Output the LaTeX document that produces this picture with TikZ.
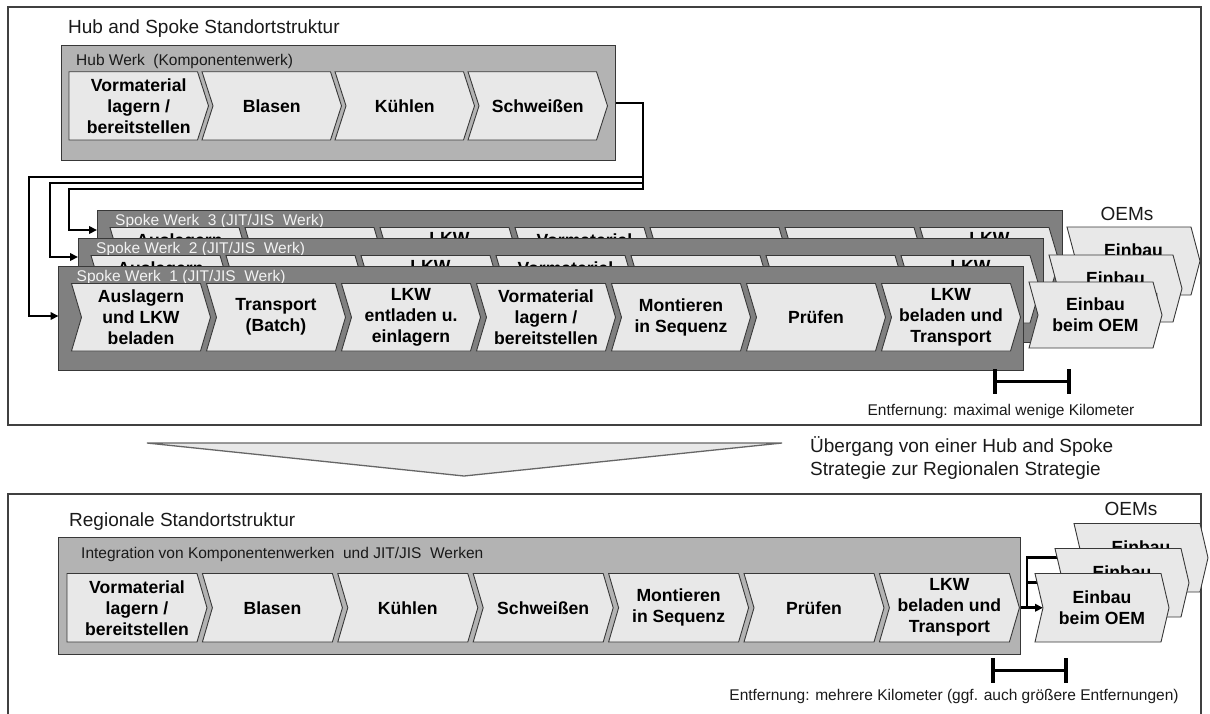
\documentclass[tikz,border=0pt]{standalone}
\usepackage{fontspec}
\setmainfont{Liberation Sans}
\usetikzlibrary{arrows.meta,calc}

\definecolor{framecol}{HTML}{404040}
\definecolor{edgecol}{HTML}{383838}
\definecolor{hubfill}{HTML}{B3B3B3}
\definecolor{spokefill}{HTML}{808080}
\definecolor{chevfill}{HTML}{E8E8E8}
\definecolor{spoketext}{HTML}{F2F2F2}
\definecolor{inktext}{HTML}{1A1A1A}

\pgfdeclarelayer{background}
\pgfdeclarelayer{lines}
\pgfsetlayers{background,lines,main}

\tikzset{
  frame/.style={draw=framecol,line width=1.3pt},
  hubbox/.style={draw=edgecol,fill=hubfill,line width=0.9pt,inner sep=0,outer sep=0,anchor=north west},
  spokebox/.style={draw=edgecol,fill=spokefill,line width=0.9pt,inner sep=0,outer sep=0,anchor=north west},
  chevshape/.style={draw=edgecol,fill=chevfill,line width=0.9pt,line join=miter},
  chevtext/.style={inner sep=0,align=center,text=black,font=\fontsize{17.6}{21}\selectfont\bfseries},
  bigtitle/.style={inner sep=0,anchor=base west,text=inktext,font=\fontsize{19}{22}\selectfont},
  boxtitle/.style={inner sep=0,anchor=base west,text=inktext,font=\fontsize{15.5}{18}\selectfont},
  conn/.style={line width=2.6pt,line join=miter},
  arr/.style={conn,-{Triangle[length=8pt,width=7.5pt]}},
  bar/.style={line width=3.2pt},
  note/.style={inner sep=0,anchor=base,text=inktext,font=\fontsize{15.5}{18}\selectfont},
  transarrow/.style={draw=black!60,fill=chevfill,line width=1.3pt,line join=miter},
}

% process step with a notched left side: name, left x, top y, width, height, point depth, label
\newcommand\chevN[7]{%
  \draw[chevshape] (#2,#3) -- ++(#4,0) -- ++(#6,#5/2) -- ++(-#6,#5/2) -- ++(-#4,0) -- ++(#6,-#5/2) -- cycle;
  \coordinate (#1-in) at ({#2+#6},{#3+#5/2});
  \coordinate (#1-out) at ({#2+#4+#6},{#3+#5/2});
  \node[chevtext] (#1) at ({#2+#4/2+#6/2},{#3+#5/2}) {#7};}
% first process step with a flat left side
\newcommand\chevP[7]{%
  \draw[chevshape] (#2,#3) -- ++(#4,0) -- ++(#6,#5/2) -- ++(-#6,#5/2) -- ++(-#4,0) -- cycle;
  \coordinate (#1-out) at ({#2+#4+#6},{#3+#5/2});
  \node[chevtext] (#1) at ({#2+#4/2+#6/2},{#3+#5/2}) {#7};}

% one JIT/JIS plant: index, left x, top y
\newcommand\spokeplant[3]{%
  \node[spokebox,minimum width=965,minimum height=104] (sp#1) at (#2,#3) {};
  \node[boxtitle,text=spoketext] (sp#1T) at (#2+18,#3+15) {Spoke Werk\ \ #1 (JIT/JIS\ \ Werk)};
  \chevN{sp#1c1}{#2+13}{#3+17.5}{129}{67.5}{10}{Auslagern\\und LKW\\beladen}
  \chevN{sp#1c2}{#2+148}{#3+17.5}{129}{67.5}{10}{Transport\\(Batch)}
  \chevN{sp#1c3}{#2+283}{#3+17.5}{129}{67.5}{10}{LKW\\entladen u.\\einlagern}
  \chevN{sp#1c4}{#2+418}{#3+17.5}{129}{67.5}{10}{Vormaterial\\lagern /\\bereitstellen}
  \chevN{sp#1c5}{#2+553}{#3+17.5}{129}{67.5}{10}{Montieren\\in Sequenz}
  \chevN{sp#1c6}{#2+688}{#3+17.5}{129}{67.5}{10}{Prüfen}
  \chevN{sp#1c7}{#2+823}{#3+17.5}{129}{67.5}{10}{LKW\\beladen und\\Transport}}

\begin{document}
\begin{tikzpicture}[x=1pt,y=-1pt]
\useasboundingbox (0,0) rectangle (1210,713);
\begin{pgfonlayer}{background}
  \fill[white] (0,0) rectangle (1210,713);
\end{pgfonlayer}

% ---------------- hub and spoke structure ----------------
\draw[frame] (8,7) rectangle (1201,425);
\node[bigtitle] (hsTitle) at (68,33) {Hub and Spoke Standortstruktur};

\node[hubbox,minimum width=554,minimum height=115] (hub) at (61,45) {};
\node[boxtitle] (hubT) at (76,65) {Hub Werk\ \ (Komponentenwerk)};
\chevP{h1}{69}{71.7}{128.5}{68.3}{11}{Vormaterial\\lagern /\\bereitstellen}
\chevN{h2}{202}{71.7}{128.5}{68.3}{11}{Blasen}
\chevN{h3}{335}{71.7}{128.5}{68.3}{11}{Kühlen}
\chevN{h4}{468}{71.7}{128.5}{68.3}{11}{Schweißen}

\spokeplant{3}{97}{210}
\spokeplant{2}{78}{238}
\spokeplant{1}{58.5}{266}

\chevN{ot3}{1067}{227}{124}{68}{9}{Einbau\\beim OEM}
\chevN{ot2}{1049}{255}{124}{67}{9}{Einbau\\beim OEM}
\chevN{ot1}{1029}{282}{124}{66}{9}{Einbau\\beim OEM}
\node[bigtitle,anchor=base] (oemTop) at (1127,220) {OEMs};

% supply lines from the hub to the three spoke plants
\coordinate (busA) at (643,177);
\coordinate (busB) at (643,183);
\coordinate (busC) at (643,189);
\coordinate (dropA) at (29,177);
\coordinate (dropB) at (50,183);
\coordinate (dropC) at (69,189);
\coordinate (hubOut) at (615,103);
\begin{pgfonlayer}{lines}
  \draw[arr] (hubOut) -| (busC) -- (dropC) |- ($(sp3.north west)+(0,20)$);
  \draw[arr] (busB) -- (dropB) |- ($(sp2.north west)+(0,19)$);
  \draw[arr] (busA) -- (dropA) |- ($(sp1.north west)+(0,50)$);
\end{pgfonlayer}

% distance between spoke plant and OEM
\coordinate (dA1) at (995,381.7);
\coordinate (dA2) at (1069,381.7);
\draw[bar] ($(dA1)+(0,-12.5)$) -- ($(dA1)+(0,12.5)$) (dA1) -- (dA2) ($(dA2)+(0,-12.5)$) -- ($(dA2)+(0,12.5)$);
\node[note] (distA) at (1001,415) {Entfernung: maximal wenige Kilometer};

% ---------------- transition ----------------
\draw[transarrow] (147,443) -- (782,443) -- (464,476) -- cycle;
\node[bigtitle] (tr1) at (810,452.5) {Übergang von einer Hub and Spoke};
\node[bigtitle] (tr2) at (810,475) {Strategie zur Regionalen Strategie};

% ---------------- regional structure ----------------
\draw[frame] (8,494) rectangle (1201,720);
\node[bigtitle] (regTitle) at (69,526) {Regionale Standortstruktur};

\node[hubbox,minimum width=961.5,minimum height=117] (integ) at (58.5,537) {};
\node[boxtitle] (integT) at (81,558) {Integration von Komponentenwerken\ \ und JIT/JIS\ \ Werken};
\chevP{b1}{67}{573.5}{130}{68.5}{10}{Vormaterial\\lagern /\\bereitstellen}
\chevN{b2}{202.4}{573.5}{130}{68.5}{10}{Blasen}
\chevN{b3}{337.8}{573.5}{130}{68.5}{10}{Kühlen}
\chevN{b4}{473.2}{573.5}{130}{68.5}{10}{Schweißen}
\chevN{b5}{608.6}{573.5}{130}{68.5}{10}{Montieren\\in Sequenz}
\chevN{b6}{744}{573.5}{130}{68.5}{10}{Prüfen}
\chevN{b7}{879.4}{573.5}{130}{68.5}{10}{LKW\\beladen und\\Transport}

\chevN{ob3}{1074}{523.5}{126}{68.5}{8}{Einbau\\beim OEM}
\chevN{ob2}{1055}{548.5}{126}{68.5}{8}{Einbau\\beim OEM}
\chevN{ob1}{1035}{573.5}{126}{68.5}{8}{Einbau\\beim OEM}
\node[bigtitle,anchor=base] (oemBottom) at (1131,515) {OEMs};

\coordinate (split) at (1027,0);
\begin{pgfonlayer}{lines}
  \draw[arr] (integ.east |- b7-out) -- (ob1-in);
  \draw[arr] (split |- b7-out) |- (ob2-in);
  \draw[arr] (split |- b7-out) |- (ob3-in);
\end{pgfonlayer}

\coordinate (dB1) at (993,670.7);
\coordinate (dB2) at (1066,670.7);
\draw[bar] ($(dB1)+(0,-12.5)$) -- ($(dB1)+(0,12.5)$) (dB1) -- (dB2) ($(dB2)+(0,-12.5)$) -- ($(dB2)+(0,12.5)$);
\node[note] (distB) at (954,700) {Entfernung: mehrere Kilometer (ggf. auch größere Entfernungen)};
\end{tikzpicture}
\end{document}
